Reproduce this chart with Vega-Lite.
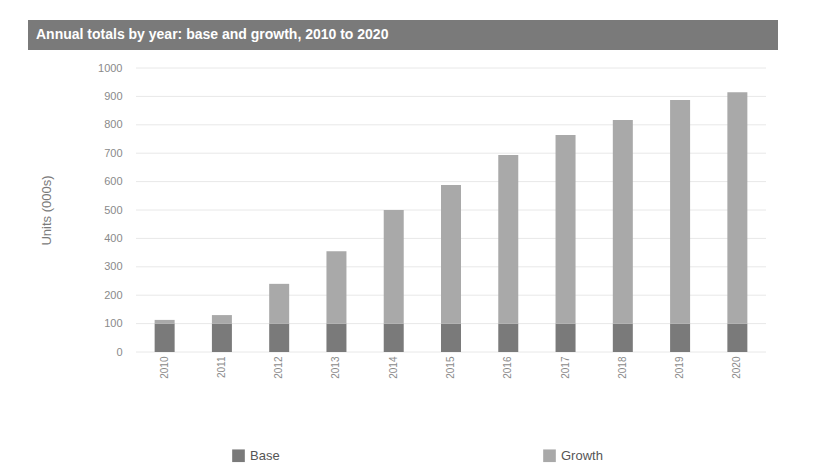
{
  "$schema": "https://vega.github.io/schema/vega-lite/v6.json",
  "background": "#ffffff",
  "padding": {"left": 28, "top": 20, "right": 0, "bottom": 0},
  "spacing": 12,
  "config": {
    "font": "Liberation Sans",
    "view": {"stroke": null},
    "axis": {"domain": false, "ticks": false, "grid": false, "labelColor": "#8a8a8a", "titleColor": "#7a7a7a"}
  },
  "vconcat": [
    {
      "width": 750,
      "height": 30,
      "view": {"fill": "#7a7a7a", "stroke": null},
      "title": {
        "text": "Annual totals by year: base and growth, 2010 to 2020",
        "anchor": "start",
        "orient": "top",
        "offset": -22,
        "dx": 8,
        "color": "#ffffff",
        "fontSize": 14,
        "fontWeight": "bold"
      },
      "data": {"values": [{"band": "title"}]},
      "mark": {"type": "text", "opacity": 0},
      "encoding": {"text": {"field": "band"}}
    },
    {
      "width": 738,
      "height": 284,
      "layer": [
        {
          "data": {
            "values": [
              {"tick": 0}, {"tick": 100}, {"tick": 200}, {"tick": 300}, {"tick": 400}, {"tick": 500},
              {"tick": 600}, {"tick": 700}, {"tick": 800}, {"tick": 900}, {"tick": 1000}
            ]
          },
          "mark": {"type": "rule", "color": "#e8e8e8", "strokeWidth": 1},
          "encoding": {
            "y": {
              "field": "tick",
              "type": "quantitative",
              "title": "Units (000s)",
              "scale": {"domain": [0, 1000]},
              "axis": {
                "values": [0, 100, 200, 300, 400, 500, 600, 700, 800, 900, 1000],
                "format": "d",
                "offset": -108,
                "labelFontSize": 11,
                "labelPadding": 14,
                "titleFontSize": 13,
                "titleFontWeight": "normal",
                "titlePadding": 44
              }
            },
            "x": {"datum": "2010", "bandPosition": 0},
            "x2": {"datum": "2020", "bandPosition": 1}
          }
        },
        {
          "data": {
            "values": [
              {"year": "2010", "part": "Base", "k": 1, "value": 100},
              {"year": "2010", "part": "Growth", "k": 2, "value": 13},
              {"year": "2011", "part": "Base", "k": 1, "value": 100},
              {"year": "2011", "part": "Growth", "k": 2, "value": 30},
              {"year": "2012", "part": "Base", "k": 1, "value": 100},
              {"year": "2012", "part": "Growth", "k": 2, "value": 140},
              {"year": "2013", "part": "Base", "k": 1, "value": 100},
              {"year": "2013", "part": "Growth", "k": 2, "value": 255},
              {"year": "2014", "part": "Base", "k": 1, "value": 100},
              {"year": "2014", "part": "Growth", "k": 2, "value": 400},
              {"year": "2015", "part": "Base", "k": 1, "value": 100},
              {"year": "2015", "part": "Growth", "k": 2, "value": 488},
              {"year": "2016", "part": "Base", "k": 1, "value": 100},
              {"year": "2016", "part": "Growth", "k": 2, "value": 594},
              {"year": "2017", "part": "Base", "k": 1, "value": 100},
              {"year": "2017", "part": "Growth", "k": 2, "value": 664},
              {"year": "2018", "part": "Base", "k": 1, "value": 100},
              {"year": "2018", "part": "Growth", "k": 2, "value": 717},
              {"year": "2019", "part": "Base", "k": 1, "value": 100},
              {"year": "2019", "part": "Growth", "k": 2, "value": 787},
              {"year": "2020", "part": "Base", "k": 1, "value": 100},
              {"year": "2020", "part": "Growth", "k": 2, "value": 815}
            ]
          },
          "mark": {"type": "bar", "size": 20},
          "encoding": {
            "x": {
              "field": "year",
              "type": "ordinal",
              "title": null,
              "scale": {"range": [108, 738], "paddingInner": 0, "paddingOuter": 0},
              "axis": {"labelAngle": -90, "labelFontSize": 10, "labelPadding": 4}
            },
            "y": {
              "field": "value",
              "type": "quantitative",
              "aggregate": "sum",
              "title": "Units (000s)",
              "scale": {"domain": [0, 1000]},
              "axis": {
                "values": [0, 100, 200, 300, 400, 500, 600, 700, 800, 900, 1000],
                "format": "d",
                "offset": -108,
                "labelFontSize": 11,
                "labelPadding": 14,
                "titleFontSize": 13,
                "titleFontWeight": "normal",
                "titlePadding": 44
              }
            },
            "color": {
              "field": "part",
              "type": "nominal",
              "scale": {"domain": ["Base", "Growth"], "range": ["#7a7a7a", "#a9a9a9"]},
              "legend": {
                "title": null,
                "orient": "none",
                "legendX": 203,
                "legendY": 428,
                "direction": "horizontal",
                "columnPadding": 262,
                "symbolType": "square",
                "symbolSize": 160,
                "labelFontSize": 13,
                "labelColor": "#555555"
              }
            },
            "order": {"field": "k", "type": "quantitative"}
          }
        }
      ]
    }
  ]
}
